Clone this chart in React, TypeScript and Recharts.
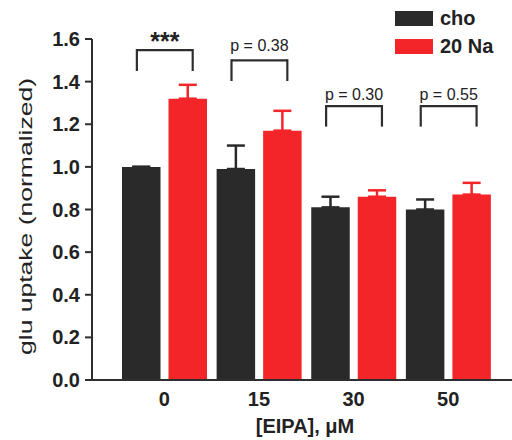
import React from 'react';
import { BarChart, Bar, XAxis, YAxis, ErrorBar, ReferenceLine, Legend } from 'recharts';

const categories = ['0', '15', '30', '50'];
const choValues = [1.0, 0.99, 0.81, 0.8];
const choErrors = [0, 0.11, 0.05, 0.047];
const naValues = [1.32, 1.17, 0.86, 0.87];
const naErrors = [0.065, 0.093, 0.03, 0.055];
const pLabels = ['***', 'p = 0.38', 'p = 0.30', 'p = 0.55'];
const bracketTop = [1.548, 1.5, 1.285, 1.285];
const bracketBottom = [1.455, 1.408, 1.194, 1.194];
const yTicks = [0, 0.2, 0.4, 0.6, 0.8, 1.0, 1.2, 1.4, 1.6];

const data = categories.map((c, i) => ({
  cat: c,
  cho: choValues[i],
  choErr: [0, choErrors[i]],
  na: naValues[i],
  naErr: [0, naErrors[i]],
}));

const FONT = '"Liberation Sans", Arial, Helvetica, sans-serif';
const BLACK = '#2a2a2a';
const RED = '#f42528';
const AXIS = '#2e2e2e';
const PAD = { left: 25, right: 16.5 };
const BAND = (420 - 25 - 16.5) / 4;
const PAD_NUM = { left: 25 + BAND / 2, right: 16.5 + BAND / 2 };
const LEG_L = -0.29;
const LEG_R = 0.3;

const legendItems = [
  { label: 'cho', color: BLACK },
  { label: '20 Na', color: RED },
];

const LegendContent = () => (
  <div style={{ fontFamily: FONT }}>
    {legendItems.map((it) => (
      <div key={it.label} style={{ display: 'flex', alignItems: 'center', height: 14.5, marginBottom: 13.5 }}>
        <div style={{ width: 38, height: 14.5, background: it.color }} />
        <span style={{ marginLeft: 7, fontSize: 20, fontWeight: 'bold', lineHeight: '20px', color: '#222' }}>{it.label}</span>
      </div>
    ))}
  </div>
);

const YLabel = (props: any) => {
  const vb = props.viewBox || { x: 0, y: 39, width: 92, height: 341 };
  const cx = 31.7;
  const cy = vb.y + vb.height / 2 + 7;
  return (
    <text
      x={cx}
      y={cy}
      transform={`rotate(-90, ${cx}, ${cy})`}
      textAnchor="middle"
      fontFamily={FONT}
      fontSize={18.5}
      fill="#222"
      textLength={277}
      lengthAdjust="spacingAndGlyphs"
    >
      glu uptake (normalized)
    </text>
  );
};

const XLabel = (props: any) => {
  const vb = props.viewBox || { x: 92, y: 380, width: 420, height: 50 };
  return (
    <text x={vb.x + vb.width / 2 + 3} y={433} textAnchor="middle" fontFamily={FONT} fontSize={20} fontWeight="bold" fill="#222">
      [EIPA], μM
    </text>
  );
};

export default function App() {
  const labelOffsets = [0, 9, 6, 6];
  return (
    <div style={{ position: 'absolute', left: 0, top: 0, background: '#fff' }}>
      <BarChart
        width={512}
        height={440}
        data={data}
        margin={{ top: 39, right: 0, bottom: 10, left: 0 }}
        barSize={38.5}
        barGap={8}
      >
        <XAxis
          dataKey="cat"
          padding={PAD}
          tickLine={false}
          tickSize={6}
          tickMargin={6}
          height={50}
          axisLine={{ stroke: AXIS, strokeWidth: 2 }}
          tick={{ fontSize: 20, fontWeight: 'bold', fill: '#222', fontFamily: FONT }}
          label={<XLabel />}
        />
        <XAxis xAxisId="br" type="number" domain={[0, 3]} padding={PAD_NUM} hide allowDataOverflow />
        <YAxis
          domain={[0, 1.6]}
          ticks={yTicks}
          width={92}
          tickSize={7}
          tickMargin={5}
          tickFormatter={(v: number) => v.toFixed(1)}
          axisLine={{ stroke: AXIS, strokeWidth: 2 }}
          tickLine={{ stroke: AXIS, strokeWidth: 2 }}
          tick={{ fontSize: 20, fontWeight: 'bold', fill: '#222', fontFamily: FONT }}
          label={<YLabel />}
          allowDataOverflow
        />
        <Legend
          layout="horizontal"
          verticalAlign="middle"
          align="center"
          content={<LegendContent />}
          wrapperStyle={{ position: 'absolute', top: 11, left: 395, width: 117, height: 60 }}
        />
        <Bar dataKey="cho" name="cho" fill={BLACK} isAnimationActive={false}>
          <ErrorBar dataKey="choErr" width={9} stroke={BLACK} strokeWidth={2.5} isAnimationActive={false} />
        </Bar>
        <Bar dataKey="na" name="20 Na" fill={RED} isAnimationActive={false}>
          <ErrorBar dataKey="naErr" width={9} stroke={RED} strokeWidth={2.5} isAnimationActive={false} />
        </Bar>
        {categories.map((c, i) => (
          <ReferenceLine
            key={'t' + c}
            xAxisId="br"
            segment={[{ x: i + LEG_L, y: bracketTop[i] }, { x: i + LEG_R, y: bracketTop[i] }]}
            stroke={AXIS}
            strokeWidth={2.2}
            ifOverflow="visible"
            label={{
              value: pLabels[i],
              position: 'top',
              offset: labelOffsets[i],
              fontSize: i === 0 ? 25 : 16,
              fontWeight: i === 0 ? 'bold' : 'normal',
              fill: '#222',
              fontFamily: FONT,
            }}
          />
        ))}
        {categories.map((c, i) => (
          <ReferenceLine
            key={'l' + c}
            xAxisId="br"
            segment={[{ x: i + LEG_L, y: bracketBottom[i] }, { x: i + LEG_L, y: bracketTop[i] }]}
            stroke={AXIS}
            strokeWidth={2.2}
            strokeLinecap="square"
            ifOverflow="visible"
          />
        ))}
        {categories.map((c, i) => (
          <ReferenceLine
            key={'r' + c}
            xAxisId="br"
            segment={[{ x: i + LEG_R, y: bracketBottom[i] }, { x: i + LEG_R, y: bracketTop[i] }]}
            stroke={AXIS}
            strokeWidth={2.2}
            strokeLinecap="square"
            ifOverflow="visible"
          />
        ))}
      </BarChart>
    </div>
  );
}
